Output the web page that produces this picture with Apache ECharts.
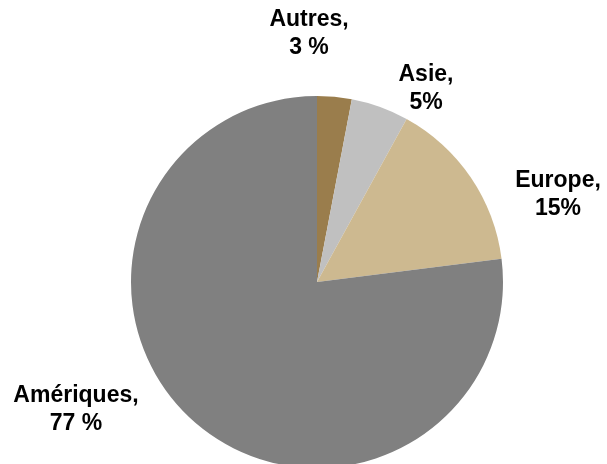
<!DOCTYPE html>
<html>
<head>
<meta charset="utf-8">
<script src="https://cdn.jsdelivr.net/npm/echarts@6/dist/echarts.min.js"></script>
<style>html,body{margin:0;padding:0;background:#fff}#c{width:607px;height:464px}</style>
</head>
<body>
<div id="c"></div>
<script>
var categories = ['Autres', 'Asie', 'Europe', 'Amériques'];
var values = [3, 5, 15, 77];
var labelTexts = ['Autres,\n3 %', 'Asie,\n5%', 'Europe,\n15%', 'Amériques,\n77 %'];
var colors = ['#9A7D4C', '#C0C0C0', '#CDB990', '#808080'];

var labelAnchors = [[309, 34], [426, 89], [558, 195], [76, 410]];

var chart = echarts.init(document.getElementById('c'));
chart.setOption({
  animation: false,
  series: [{
    type: 'pie',
    center: [317, 282],
    radius: 186,
    startAngle: 90,
    clockwise: true,
    data: categories.map(function (c, i) {
      return { name: c, value: values[i], itemStyle: { color: colors[i] } };
    }),
    itemStyle: { borderWidth: 0 },
    label: {
      show: true,
      position: 'outside',
      formatter: function (p) { return labelTexts[p.dataIndex]; },
      fontFamily: 'Liberation Sans, Arial, sans-serif',
      fontWeight: 'bold',
      fontSize: 23,
      lineHeight: 28,
      color: '#000',
      align: 'center',
      overflow: 'none',
      width: 200
    },
    labelLine: { show: false },
    labelLayout: function (params) {
      var a = labelAnchors[params.dataIndex];
      return { x: a[0], y: a[1], align: 'center', verticalAlign: 'middle' };
    },
    emphasis: { disabled: true }
  }]
});
</script>
</body>
</html>
